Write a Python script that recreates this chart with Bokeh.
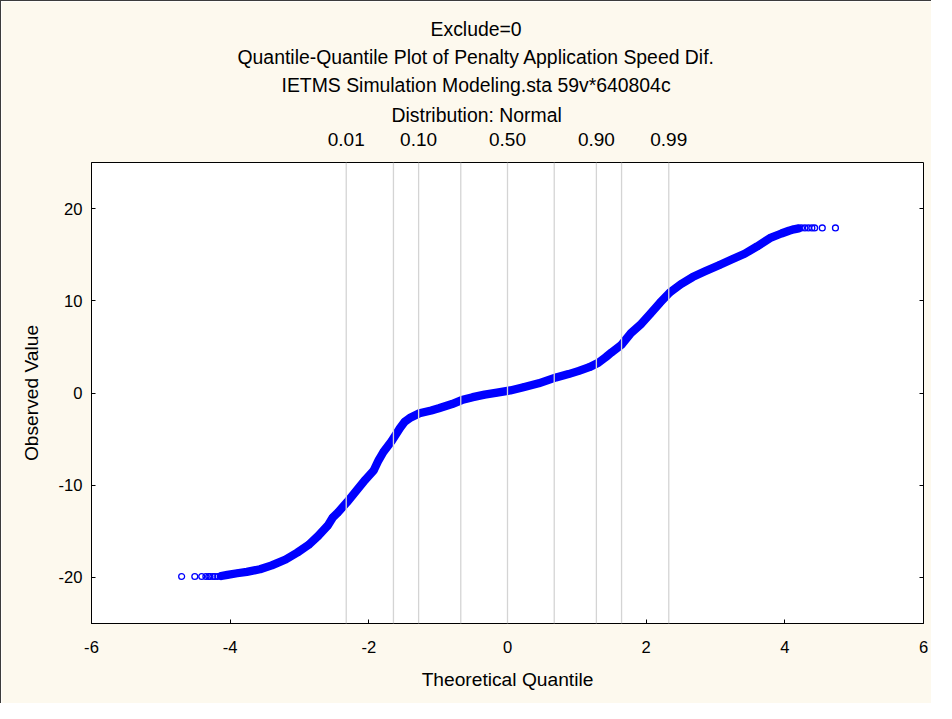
from bokeh.plotting import figure
from bokeh.models import LinearAxis, FixedTicker, Span, Range1d, Title
from bokeh.embed import file_html
from bokeh.resources import INLINE

# ---- data ----
title_lines = ["Exclude=0",
               "Quantile-Quantile Plot of Penalty Application Speed Dif.",
               "IETMS Simulation Modeling.sta 59v*640804c",
               "Distribution: Normal"]

# normal quantiles of reference probabilities (vertical guide lines)
ref_z = [-2.326, -1.645, -1.282, -0.674, 0.0, 0.674, 1.282, 1.645, 2.326]
prob_tick_z = [-2.326, -1.282, 0.0, 1.282, 2.326]
prob_tick_labels = ["0.01", "0.10", "0.50", "0.90", "0.99"]

# dense central band of the Q-Q points (theoretical quantile, observed value)
band_x = [-4.13, -4.04, -3.90, -3.76, -3.57, -3.40, -3.20, -3.03, -2.87, -2.73,
          -2.59, -2.52, -2.45, -2.31, -2.17, -2.05, -1.93, -1.86, -1.79, -1.67,
          -1.55, -1.48, -1.41, -1.27, -1.10, -0.99, -0.80, -0.66, -0.50, -0.33,
          -0.15, 0.04, 0.23, 0.45, 0.70, 0.88, 1.03, 1.18, 1.31, 1.42,
          1.50, 1.64, 1.78, 1.93, 2.06, 2.20, 2.34, 2.50, 2.67, 2.85,
          3.05, 3.24, 3.42, 3.60, 3.80, 3.95, 4.06, 4.13, 4.20]
band_y = [-19.85, -19.72, -19.55, -19.40, -19.12, -18.70, -18.06, -17.30, -16.48, -15.50,
          -14.36, -13.50, -13.00, -11.80, -10.50, -9.40, -8.40, -7.30, -6.40, -5.20,
          -3.80, -3.10, -2.72, -2.19, -1.90, -1.66, -1.20, -0.77, -0.45, -0.18,
          0.05, 0.28, 0.63, 1.05, 1.69, 2.05, 2.40, 2.80, 3.28, 3.90,
          4.40, 5.20, 6.50, 7.50, 8.60, 9.80, 10.90, 11.80, 12.57, 13.20,
          13.86, 14.50, 15.10, 15.90, 16.86, 17.30, 17.60, 17.75, 17.85]

# sparse tails
tail_left_x = [-4.70, -4.51, -4.41, -4.35, -4.31, -4.29, -4.25, -4.22, -4.18]
tail_left_y = [-19.9] * len(tail_left_x)
tail_right_x = [4.24, 4.29, 4.34, 4.39, 4.43, 4.54, 4.73]
tail_right_y = [17.9] * len(tail_right_x)

x_ticks = [-6, -4, -2, 0, 2, 4, 6]
y_ticks = [-20, -10, 0, 10, 20]

FONT = "Liberation Sans"
CREAM = "#FDF9EE"
BLUE = "#0000FF"

p = figure(width=931, height=703, output_backend="svg", toolbar_location=None,
           x_range=Range1d(-6, 6), y_range=Range1d(-25, 25),
           x_axis_location=None, y_axis_location=None,
           min_border_left=90, min_border_right=9, min_border_top=161, min_border_bottom=81)
p.border_fill_color = CREAM
p.background_fill_color = "white"
p.outline_line_color = "black"
p.outline_line_width = 1
p.xgrid.visible = False
p.ygrid.visible = False
p.styles = {"border-left": "1px solid #3c3c3c", "border-top": "1px solid #3c3c3c"}


def hyphen_labels(ticks):
    return {t: str(t) for t in ticks}


def style_axis(ax):
    ax.major_label_text_font = FONT
    ax.major_label_text_color = "black"
    ax.axis_label_text_font = FONT
    ax.axis_label_text_font_style = "normal"
    ax.axis_label_text_color = "black"
    ax.minor_tick_line_color = None
    ax.major_tick_line_color = "black"
    ax.axis_line_color = "black"


# bottom axis
xb = LinearAxis(ticker=FixedTicker(ticks=x_ticks), axis_label="Theoretical Quantile",
                major_label_overrides=hyphen_labels(x_ticks))
style_axis(xb)
xb.major_tick_in = 4
xb.major_tick_out = 0
xb.major_label_text_font_size = "16.6px"
xb.axis_label_text_font_size = "19.2px"
xb.major_label_standoff = 17
xb.axis_label_standoff = 13
p.add_layout(xb, "below")

# left axis
yl = LinearAxis(ticker=FixedTicker(ticks=y_ticks), axis_label="Observed Value",
                major_label_overrides=hyphen_labels(y_ticks))
style_axis(yl)
yl.major_tick_in = 4
yl.major_tick_out = 0
yl.major_label_text_font_size = "16.6px"
yl.axis_label_text_font_size = "19.2px"
yl.major_label_standoff = 9
yl.axis_label_standoff = 14
p.add_layout(yl, "left")

# right axis (ticks only)
yr = LinearAxis(ticker=FixedTicker(ticks=y_ticks),
                major_label_overrides={t: "" for t in y_ticks})
style_axis(yr)
yr.major_tick_in = 4
yr.major_tick_out = 0
yr.major_label_standoff = 0
yr.axis_line_color = None
p.add_layout(yr, "right")

# top axis with probability labels
xt = LinearAxis(ticker=FixedTicker(ticks=prob_tick_z),
                major_label_overrides={z: lab for z, lab in zip(prob_tick_z, prob_tick_labels)})
style_axis(xt)
xt.major_tick_in = 0
xt.major_tick_out = 0
xt.major_tick_line_color = None
xt.axis_line_color = None
xt.major_label_text_font_size = "19px"
xt.major_label_standoff = 17
p.add_layout(xt, "above")

# title lines, stacked outward from the frame (last line first)
title_offsets = [339, 146, 190, 300]
title_standoffs = [3.5, 3.5, 3.5, 8]
for txt, off, so in reversed(list(zip(title_lines, title_offsets, title_standoffs))):
    p.add_layout(Title(text=txt, align="left", offset=off, standoff=so,
                       text_font=FONT, text_font_size="19.4px",
                       text_font_style="normal", text_color="black"), "above")

# vertical probability guide lines
for z in ref_z:
    p.add_layout(Span(location=z, dimension="height", line_color="#D4D4D4", line_width=1.3))

# the dense band of points and the sparse tails
p.line(band_x, band_y, line_color=BLUE, line_width=8.3, line_join="round", line_cap="round")
p.scatter(band_x, band_y, marker="circle", size=5.9, fill_color=None, line_color=BLUE, line_width=1.3)
p.scatter(tail_left_x, tail_left_y, marker="circle", size=5.9, fill_color=None,
          line_color=BLUE, line_width=1.3)
p.scatter(tail_right_x, tail_right_y, marker="circle", size=5.9, fill_color=None,
          line_color=BLUE, line_width=1.3)

open("out.html", "w").write(file_html(p, INLINE))
